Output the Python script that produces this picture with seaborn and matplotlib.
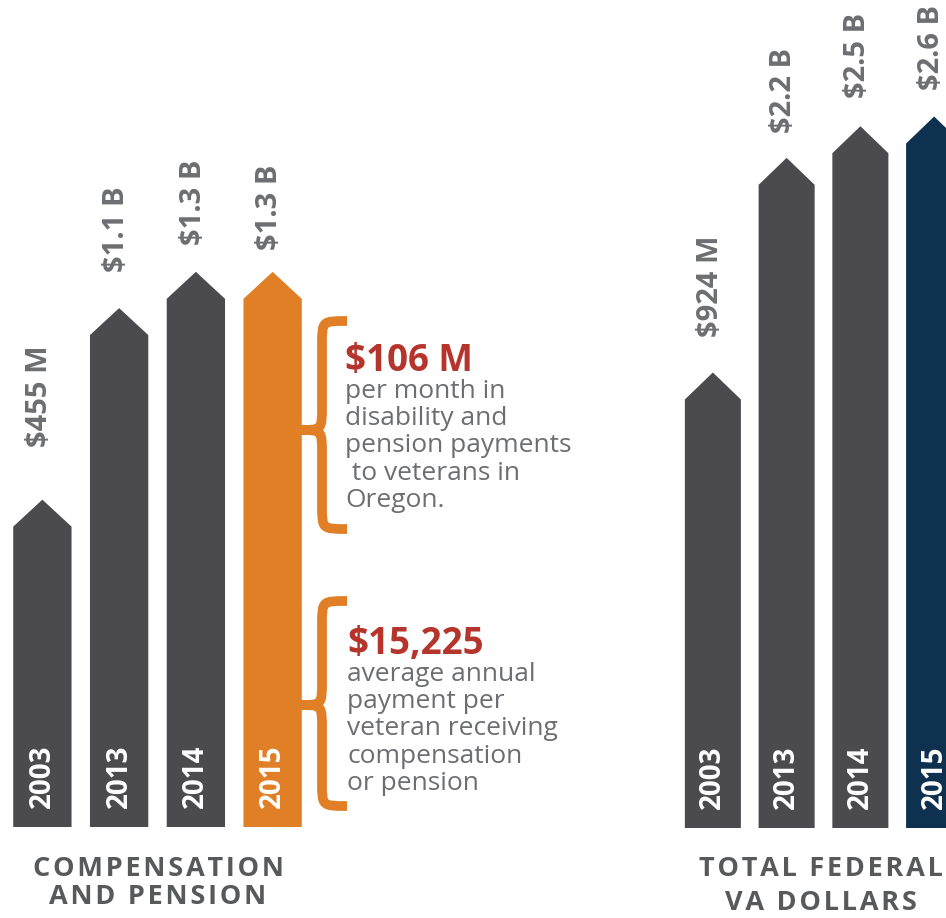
# IMPORTS
import pandas as pd
import seaborn as sns
import matplotlib.pyplot as plt
from matplotlib.patches import Polygon, PathPatch
from matplotlib.path import Path

# DATA
years = ['2003', '2013', '2014', '2015']

comp_values = [0.455, 1.1, 1.3, 1.3]      # billions of dollars
comp_labels = ['$455 M', '$1.1 B', '$1.3 B', '$1.3 B']

va_values = [0.924, 2.2, 2.5, 2.6]        # billions of dollars
va_labels = ['$924 M', '$2.2 B', '$2.5 B', '$2.6 B']

note1_head = '$106 M'
note1_lines = ['per month in', 'disability and', 'pension payments',
               ' to veterans in', 'Oregon.']
note2_head = '$15,225'
note2_lines = ['average annual', 'payment per', 'veteran receiving',
               'compensation', 'or pension']

# STYLE
GREY_BAR = '#4b4b4d'
ORANGE = '#e07f26'
NAVY = '#0e3150'
LABEL_GREY = '#6d6e71'
TITLE_GREY = '#58595b'
RED = '#b5342b'

comp_colors = [GREY_BAR, GREY_BAR, GREY_BAR, ORANGE]
va_colors = [GREY_BAR, GREY_BAR, GREY_BAR, NAVY]

sns.set_theme(style='white')
plt.rcParams['font.family'] = ['Open Sans', 'DejaVu Sans']

W, H = 946, 918
fig = plt.figure(figsize=(W / 100, H / 100), dpi=100)
fig.patch.set_facecolor('white')


def fx(x):
    return x / W


def fy(y):
    return 1 - y / H


def draw_panel(ax, values, labels, colors, ylim, gaps):
    df = pd.DataFrame({'year': years, 'value': values})
    ax.set_yscale('log')
    sns.barplot(data=df, x='year', y='value', hue='year', palette=colors,
                width=0.76, saturation=1, legend=False, ax=ax)
    ax.set_ylim(*ylim)
    ax.set_xlim(-0.5, 3.5)
    ax.set_axis_off()
    bottom = ylim[0]
    for bar, lab, yr, gap in zip(ax.patches, labels, years, gaps):
        x0, w, h = bar.get_x(), bar.get_width(), bar.get_height()
        xc = x0 + w / 2
        # arrow tip: fixed height in pixels above the shoulder
        xd, yd = ax.transData.transform((xc, h))
        tip = ax.transData.inverted().transform((xd, yd + 27))[1]
        ax.add_patch(Polygon([(x0, bottom), (x0, h), (xc, tip), (x0 + w, h),
                              (x0 + w, bottom)], closed=True,
                             facecolor=bar.get_facecolor(), edgecolor='none'))
        bar.set_visible(False)
        ax.annotate(lab, (xc, tip), xytext=(-2, gap * 0.72),
                    textcoords='offset points', rotation=90, ha='center',
                    va='bottom', fontsize=21, fontweight='bold',
                    color=LABEL_GREY)
        ax.annotate(yr, (xc, bottom), xytext=(0, 19 * 0.72),
                    textcoords='offset points', rotation=90, ha='center',
                    va='bottom', fontsize=20, fontweight='bold', color='white')


ax1 = fig.add_axes([fx(4), fy(827), fx(311) - fx(4), fy(100) - fy(827)])
draw_panel(ax1, comp_values, comp_labels, comp_colors, (0.114, 3.25),
           [53, 36, 27, 22])

ax2 = fig.add_axes([fx(676), fy(828), fx(971) - fx(676), fy(100) - fy(828)])
draw_panel(ax2, va_values, va_labels, va_colors, (0.1635, 3.10),
           [35, 25, 28, 27])


# panel titles with letter spacing
def spaced(s):
    return '\u200a'.join(s)


for txt, x, y in [('COMPENSATION', 158, 869), ('AND PENSION', 158, 897),
                  ('TOTAL FEDERAL', 821, 869), ('VA DOLLARS', 821, 903)]:
    fig.text(fx(x), fy(y), spaced(txt), ha='center', va='center',
             fontsize=19.5, fontweight='bold', color=TITLE_GREY)


# curly braces
def brace(xr, xs, xl, yt, ym, yb, r=24):
    pts = [(xr, yt),
           (xs, yt), (xs, yt), (xs, yt + r),
           (xs, ym - r),
           (xs, ym), (xs, ym), (xl, ym),
           (xs, ym), (xs, ym), (xs, ym + r),
           (xs, yb - r),
           (xs, yb), (xs, yb), (xr, yb)]
    codes = ([Path.MOVETO] + [Path.CURVE4] * 3 + [Path.LINETO]
             + [Path.CURVE4] * 6 + [Path.LINETO] + [Path.CURVE4] * 3)
    path = Path([(fx(x), fy(y)) for x, y in pts], codes)
    fig.patches.append(PathPatch(path, transform=fig.transFigure,
                                 facecolor='none', edgecolor=ORANGE, lw=7,
                                 capstyle='butt', joinstyle='round'))


brace(347, 322, 300, 321, 430, 529)
brace(347, 322, 300, 601, 705, 806)


# notes
def note(x, y, head, lines):
    fig.text(fx(x), fy(y), head, ha='left', va='baseline', fontsize=26.5,
             fontweight='bold', color=RED)
    for i, line in enumerate(lines):
        fig.text(fx(x), fy(y + 27 + 27.2 * i), line, ha='left', va='baseline',
                 fontsize=19, color=LABEL_GREY)


note(345, 371, note1_head, note1_lines)
note(347, 654, note2_head, note2_lines)

plt.savefig('out.png', dpi=100, facecolor='white')
